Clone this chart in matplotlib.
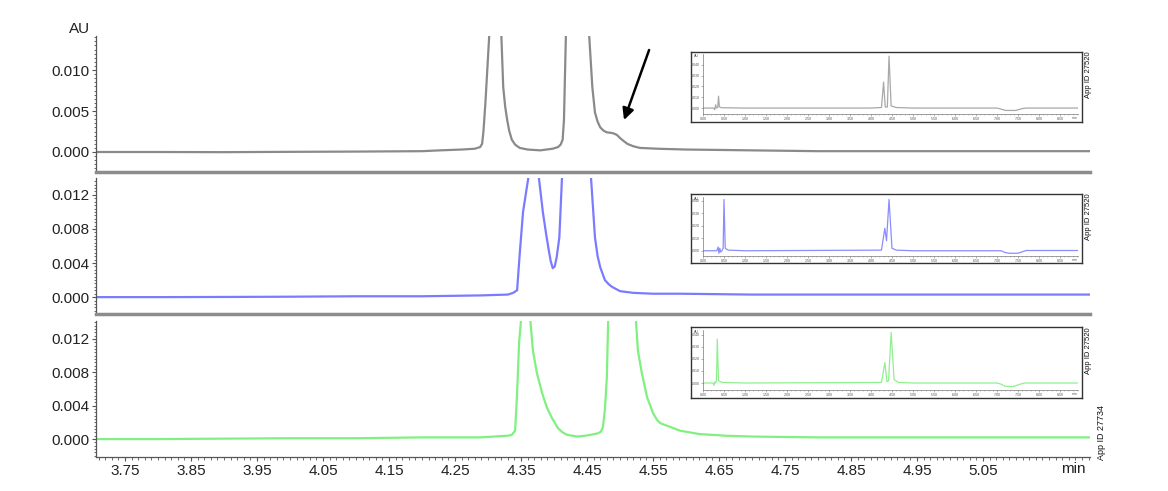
import matplotlib.pyplot as plt
from matplotlib.ticker import FixedLocator, MultipleLocator, FormatStrFormatter, AutoMinorLocator
import matplotlib.transforms as mtransforms

plt.rcParams['font.family'] = ['Liberation Sans', 'DejaVu Sans']

# main traces (time in min, absorbance in AU)
gray_t = [3.706, 3.80, 3.90, 4.00, 4.10, 4.20, 4.227, 4.26, 4.280, 4.288, 4.291, 4.293,
          4.296, 4.302, 4.311, 4.320, 4.323, 4.326, 4.329, 4.332, 4.336, 4.341, 4.348,
          4.360, 4.379, 4.398, 4.406, 4.410, 4.413, 4.415, 4.418, 4.435, 4.453, 4.458,
          4.462, 4.466, 4.470, 4.475, 4.480, 4.489, 4.495, 4.500, 4.506, 4.511, 4.520,
          4.530, 4.556, 4.60, 4.70, 4.80, 4.90, 5.00, 5.10, 5.212]
gray_au = [0.0000, 0.0000, -0.00002, 0.00002, 0.00005, 0.0001, 0.0002, 0.0003, 0.0004, 0.0006,
           0.0010, 0.0025, 0.006, 0.0145, 0.05, 0.0145, 0.0079, 0.0055, 0.0039, 0.0026,
           0.0015, 0.0009, 0.0005, 0.0003, 0.0002, 0.0004, 0.0006, 0.0009, 0.0015, 0.0039,
           0.0145, 0.06, 0.0145, 0.0079, 0.0048, 0.0037, 0.0030, 0.0026, 0.0024, 0.0023,
           0.0021, 0.0017, 0.0013, 0.0010, 0.0007, 0.0005, 0.0004, 0.0003, 0.0002, 0.0001,
           0.0001, 0.0001, 0.0001, 0.0001]

blue_t = [3.706, 3.80, 3.90, 4.00, 4.10, 4.20, 4.288, 4.330, 4.338, 4.344, 4.348, 4.353,
          4.361, 4.369, 4.377, 4.383, 4.388, 4.392, 4.395, 4.398, 4.401, 4.404, 4.408,
          4.412, 4.434, 4.456, 4.462, 4.466, 4.470, 4.477, 4.483, 4.488, 4.500, 4.520,
          4.550, 4.591, 4.70, 4.80, 4.90, 5.00, 5.10, 5.212]
blue_au = [0.0000, 0.0000, 0.00002, 0.00005, 0.0001, 0.0001, 0.0002, 0.0003, 0.0005, 0.0008,
           0.0051, 0.0100, 0.0140, 0.05, 0.0140, 0.0100, 0.0074, 0.0055, 0.0042, 0.0034,
           0.0036, 0.0047, 0.0070, 0.0140, 0.06, 0.0140, 0.0070, 0.0048, 0.0035, 0.0020,
           0.0015, 0.0012, 0.0007, 0.0005, 0.0004, 0.0004, 0.0003, 0.0003, 0.0003, 0.0003,
           0.0003, 0.0003]

green_t = [3.706, 3.80, 3.90, 4.00, 4.10, 4.20, 4.288, 4.330, 4.336, 4.341, 4.344, 4.347,
           4.350, 4.357, 4.364, 4.368, 4.374, 4.382, 4.389, 4.397, 4.406, 4.413, 4.420,
           4.428, 4.435, 4.447, 4.455, 4.467, 4.471, 4.474, 4.477, 4.480, 4.482, 4.503,
           4.524, 4.527, 4.533, 4.541, 4.550, 4.556, 4.561, 4.571, 4.591, 4.62, 4.66,
           4.70, 4.80, 4.90, 5.00, 5.10, 5.212]
green_au = [0.0000, 0.0000, 0.00005, 0.0001, 0.0001, 0.0002, 0.0002, 0.0004, 0.0005, 0.0010,
            0.0055, 0.0115, 0.0143, 0.05, 0.0143, 0.0106, 0.0079, 0.0055, 0.0038, 0.0025,
            0.0013, 0.0008, 0.0005, 0.0004, 0.0003, 0.0004, 0.0005, 0.0007, 0.0009, 0.0014,
            0.0035, 0.0074, 0.0143, 0.05, 0.0143, 0.0106, 0.0079, 0.0050, 0.0031, 0.0023,
            0.0019, 0.0016, 0.0010, 0.0006, 0.0004, 0.0003, 0.0002, 0.0002, 0.0002, 0.0002,
            0.0002]

# full-run insets
gray_in_t = [0.0, 0.25, 0.28, 0.30, 0.32, 0.35, 0.37, 0.39, 0.45, 1.0, 4.0, 4.25, 4.30, 4.34,
             4.39, 4.43, 4.48, 4.6, 5.0, 7.0, 7.1, 7.2, 7.45, 7.6, 7.7, 8.93]
gray_in_au = [0.0, 0.0, -0.0015, 0.003, 0.0, 0.0005, 0.011, 0.001, 0.0003, 0.0, 0.0, 0.0005,
              0.024, 0.001, 0.001, 0.048, 0.002, 0.0005, 0.0, 0.0, -0.001, -0.0022, -0.0022,
              -0.0005, 0.0, 0.0]
blue_in_t = [0.0, 0.33, 0.36, 0.38, 0.40, 0.42, 0.45, 0.48, 0.50, 0.53, 0.6, 1.0, 4.25, 4.33,
             4.37, 4.43, 4.5, 4.6, 5.0, 7.1, 7.2, 7.3, 7.5, 7.65, 7.7, 8.93]
blue_in_au = [0.0, 0.0, 0.003, -0.002, 0.002, -0.001, 0.0, 0.002, 0.041, 0.002, 0.0005, 0.0,
              0.0005, 0.018, 0.008, 0.041, 0.002, 0.0005, 0.0, 0.0, -0.0015, -0.002, -0.002,
              -0.0003, 0.0002, 0.0002]
green_in_t = [0.0, 0.24, 0.26, 0.28, 0.30, 0.32, 0.34, 0.37, 0.45, 1.0, 4.25, 4.33, 4.38,
              4.42, 4.48, 4.55, 4.65, 5.0, 7.0, 7.1, 7.2, 7.4, 7.55, 7.65, 8.93]
green_in_au = [0.0, 0.0, -0.002, 0.001, 0.0, 0.002, 0.0365, 0.002, 0.0005, 0.0, 0.0005, 0.017,
               0.001, 0.002, 0.042, 0.003, 0.0005, 0.0, 0.0, -0.001, -0.0028, -0.0028, -0.001,
               0.0, 0.0]

x_ticks = [3.75, 3.85, 3.95, 4.05, 4.15, 4.25, 4.35, 4.45, 4.55, 4.65, 4.75, 4.85, 4.95, 5.05]
inset_ticks = [0.0, 0.5, 1.0, 1.5, 2.0, 2.5, 3.0, 3.5, 4.0, 4.5, 5.0, 5.5, 6.0, 6.5, 7.0,
               7.5, 8.0, 8.5]
app_ids = ['App ID 27520', 'App ID 27520', 'App ID 27520']

W, H = 1168, 491
fig = plt.figure(figsize=(W / 100, H / 100), dpi=100)


def px_axes(x0, y0, x1, y1):
    return fig.add_axes([x0 / W, 1 - y1 / H, (x1 - x0) / W, (y1 - y0) / H])


spine_c = '#555555'
sep_c = '#8c8c8c'

panels = [
    (36, 172, gray_t, gray_au, '#8a8a8a', (-0.00244, 0.01415), [0, 0.005, 0.010]),
    (178, 314, blue_t, blue_au, '#7b7bff', (-0.00198, 0.01398), [0, 0.004, 0.008, 0.012]),
    (321, 457, green_t, green_au, '#80f080', (-0.00215, 0.01415), [0, 0.004, 0.008, 0.012]),
]

axes = []
for i, (top, bot, t, au, col, ylim, yt) in enumerate(panels):
    ax = px_axes(96, top, 1090, bot)
    ax.plot(t, au, color=col, lw=1.6)
    ax.set_xlim(3.706, 5.212)
    ax.set_ylim(*ylim)
    ax.yaxis.set_major_locator(FixedLocator(yt))
    ax.yaxis.set_major_formatter(FormatStrFormatter('%.3f'))
    ax.yaxis.set_minor_locator(AutoMinorLocator(10))
    ax.tick_params(axis='y', which='major', direction='out', length=3, width=0.8,
                   color=spine_c, labelsize=11, pad=1.5, labelcolor='#222222')
    ax.tick_params(axis='y', which='minor', direction='out', length=1.8, width=0.6, color=spine_c)
    ax.spines['top'].set_visible(False)
    ax.spines['right'].set_visible(False)
    ax.spines['left'].set_color(spine_c)
    ax.spines['left'].set_linewidth(0.9)
    if i < 2:
        ax.set_xticks([])
        ax.spines['bottom'].set_color(sep_c)
        ax.spines['bottom'].set_linewidth(2.5)
    else:
        ax.set_xticks(x_ticks)
        ax.xaxis.set_major_formatter(FormatStrFormatter('%.2f'))
        ax.xaxis.set_minor_locator(MultipleLocator(0.01))
        ax.tick_params(axis='x', which='major', direction='out', length=3, width=0.8,
                       color=spine_c, labelsize=11, pad=2, labelcolor='#222222')
        ax.tick_params(axis='x', which='minor', direction='out', length=1.8, width=0.6,
                       color=spine_c)
        ax.spines['bottom'].set_color(spine_c)
        ax.spines['bottom'].set_linewidth(0.9)
        trans = mtransforms.blended_transform_factory(ax.transData, ax.transAxes)
        ax.text(5.186, -0.035, 'min', transform=trans, ha='center', va='top',
                fontsize=11, color='#222222')
    axes.append(ax)

fig.text(80 / W, 1 - 29 / H, 'AU', ha='center', va='center', fontsize=11, color='#222222')

# arrow pointing at the shoulder in the top trace
axes[0].annotate('', xy=(4.506, 0.0039), xytext=(4.544, 0.01244),
                 arrowprops=dict(arrowstyle='-|>', color='black', lw=1.8,
                                 mutation_scale=17, shrinkA=0, shrinkB=0))

# insets with full run
insets = [
    ((691, 52, 1082, 122), (703, 54, 1078, 114), gray_in_t, gray_in_au, '#a8a8a8', (-0.0055, 0.050)),
    ((691, 194, 1082, 263), (703, 197, 1078, 256), blue_in_t, blue_in_au, '#8c8cff', (-0.0042, 0.043)),
    ((691, 327, 1082, 398), (703, 330, 1078, 390), green_in_t, green_in_au, '#90f090', (-0.0058, 0.044)),
]
for k, (box, inner, t, au, col, ylim) in enumerate(insets):
    fr = px_axes(*box)
    fr.set_xticks([])
    fr.set_yticks([])
    for s in fr.spines.values():
        s.set_color('#333333')
        s.set_linewidth(1.0)
    ia = px_axes(*inner)
    ia.patch.set_alpha(0)
    ia.plot(t, au, color=col, lw=0.9)
    ia.set_xlim(0, 8.93)
    ia.set_ylim(*ylim)
    ia.set_xticks(inset_ticks)
    ia.xaxis.set_major_formatter(FormatStrFormatter('%.2f'))
    ia.xaxis.set_minor_locator(MultipleLocator(0.1))
    ia.set_yticks([0, 0.01, 0.02, 0.03, 0.04])
    ia.yaxis.set_major_formatter(FormatStrFormatter('%.3f'))
    ia.tick_params(which='major', length=1.2, width=0.4, labelsize=2.6, pad=0.8,
                   color='#777777', labelcolor='#555555')
    ia.tick_params(which='minor', length=0.7, width=0.3, color='#777777')
    ia.spines['top'].set_visible(False)
    ia.spines['right'].set_visible(False)
    for s in ('left', 'bottom'):
        ia.spines[s].set_color('#777777')
        ia.spines[s].set_linewidth(0.5)
    ia.text(-0.01, 1.0, 'AU', transform=ia.transAxes, ha='right', va='top',
            fontsize=2.6, color='#555555')
    ia.text(8.85, -0.03, 'min', transform=mtransforms.blended_transform_factory(ia.transData, ia.transAxes),
            ha='center', va='top', fontsize=2.6, color='#555555')
    yc = (box[1] + box[3]) / 2 - 12
    fig.text(1089 / W, 1 - yc / H, app_ids[k], rotation=90, ha='center', va='center',
             fontsize=5.5, color='#111111')

fig.text(1102 / W, 1 - 433 / H, 'App ID 27734', rotation=90, ha='center', va='center',
         fontsize=6.5, color='#111111')

fig.savefig('out.png', dpi=100)
